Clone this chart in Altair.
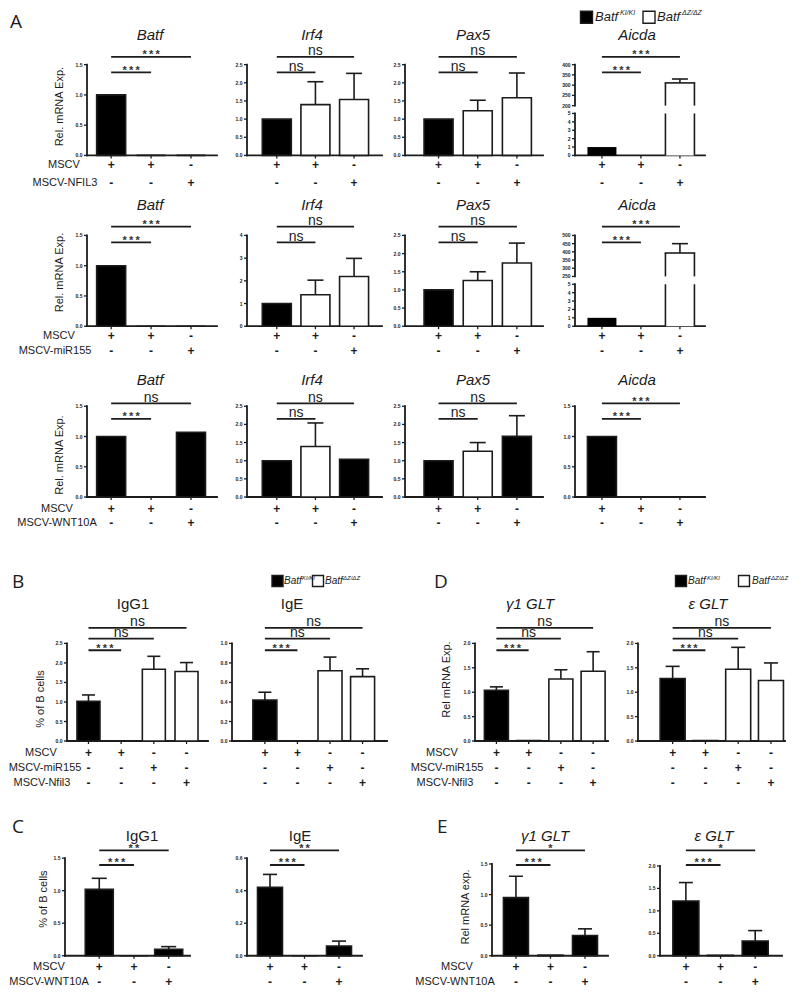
import altair as alt
import pandas as pd

FONT = "Liberation Sans"
LETTER_FONT = "Open Sans"
INK = "#1c1c1c"

# ============================ DATA ============================
# ---- Panel A: relative mRNA expression, 3 rescue experiments
genes_A = ["Batf", "Irf4", "Pax5", "Aicda"]
inserts_A = ["MSCV-NFIL3", "MSCV-miR155", "MSCV-WNT10A"]
mscv_A = ["+", "+", "-"]
insert_A = ["-", "-", "+"]
geno_A = [["KI", "DZ", "DZ"], ["KI", "DZ", "DZ"], ["KI", "DZ", "KI"]]
mean_A = [
    {"Batf": [1.00, 0.00, 0.00], "Irf4": [1.00, 1.40, 1.54], "Pax5": [1.00, 1.23, 1.59], "Aicda": [1.00, 0.00, 311.0]},
    {"Batf": [1.00, 0.00, 0.00], "Irf4": [1.00, 1.39, 2.19], "Pax5": [1.00, 1.26, 1.74], "Aicda": [1.00, 0.00, 393.0]},
    {"Batf": [1.00, 0.00, 1.07], "Irf4": [1.00, 1.39, 1.04], "Pax5": [1.00, 1.26, 1.67], "Aicda": [1.00, 0.00, 0.00]},
]
sem_A = [
    {"Batf": [0, 0, 0], "Irf4": [0, 0.63, 0.72], "Pax5": [0, 0.29, 0.68], "Aicda": [0, 0, 19.0]},
    {"Batf": [0, 0, 0], "Irf4": [0, 0.64, 0.80], "Pax5": [0, 0.24, 0.55], "Aicda": [0, 0, 57.0]},
    {"Batf": [0, 0, 0], "Irf4": [0, 0.65, 0], "Pax5": [0, 0.24, 0.57], "Aicda": [0, 0, 0]},
]
sig_A = [  # [bar1 vs bar2, bar1 vs bar3]
    {"Batf": ["***", "***"], "Irf4": ["ns", "ns"], "Pax5": ["ns", "ns"], "Aicda": ["***", "***"]},
    {"Batf": ["***", "***"], "Irf4": ["ns", "ns"], "Pax5": ["ns", "ns"], "Aicda": ["***", "***"]},
    {"Batf": ["***", "ns"], "Irf4": ["ns", "ns"], "Pax5": ["ns", "ns"], "Aicda": ["***", "***"]},
]
t15 = [0, 0.5, 1.0, 1.5]
t25 = [0, 0.5, 1.0, 1.5, 2.0, 2.5]
t05 = [0, 1, 2, 3, 4, 5]
ticks_A = [
    {"Batf": [t15], "Irf4": [t25], "Pax5": [t25], "Aicda": [t05, [200, 250, 300, 350, 400]]},
    {"Batf": [t15], "Irf4": [[0, 1, 2, 3, 4]], "Pax5": [t25], "Aicda": [t05, [250, 300, 350, 400, 450, 500]]},
    {"Batf": [t15], "Irf4": [t25], "Pax5": [t25], "Aicda": [t15]},
]

# ---- Panels B / D (miR155, Nfil3)
rows_BD = ["MSCV", "MSCV-miR155", "MSCV-Nfil3"]
signs_BD = [["+", "+", "-", "-"], ["-", "-", "+", "-"], ["-", "-", "-", "+"]]
geno_BD = ["KI", "DZ", "DZ", "DZ"]
mean_B = {"IgG1": [1.02, 0.00, 1.84, 1.78], "IgE": [0.42, 0.00, 0.72, 0.66]}
sem_B = {"IgG1": [0.16, 0, 0.33, 0.23], "IgE": [0.08, 0, 0.14, 0.08]}
ticks_B = {"IgG1": t25, "IgE": [0, 0.2, 0.4, 0.6, 0.8, 1.0]}
mean_D = {"γ1 GLT": [1.04, 0.01, 1.27, 1.43], "ε GLT": [1.28, 0.01, 1.47, 1.24]}
sem_D = {"γ1 GLT": [0.07, 0, 0.19, 0.40], "ε GLT": [0.25, 0, 0.45, 0.36]}
ticks_D = {"γ1 GLT": [0, 0.5, 1.0, 1.5, 2.0], "ε GLT": [0, 0.5, 1.0, 1.5, 2.0]}
sig_BD = ["***", "ns", "ns"]

# ---- Panels C / E (WNT10A)
rows_CE = ["MSCV", "MSCV-WNT10A"]
signs_CE = [["+", "+", "-"], ["-", "-", "+"]]
geno_CE = ["KI", "KI", "KI"]
mean_C = {"IgG1": [1.02, 0.00, 0.10], "IgE": [0.42, 0.00, 0.06]}
sem_C = {"IgG1": [0.17, 0, 0.04], "IgE": [0.08, 0, 0.03]}
ticks_C = {"IgG1": t15, "IgE": [0, 0.2, 0.4, 0.6]}
sig_C = ["***", "**"]
mean_E = {"γ1 GLT": [0.95, 0.01, 0.33], "ε GLT": [1.22, 0.01, 0.33]}
sem_E = {"γ1 GLT": [0.35, 0, 0.11], "ε GLT": [0.41, 0, 0.23]}
ticks_E = {"γ1 GLT": t15, "ε GLT": [0, 0.5, 1.0, 1.5, 2.0]}
sig_E = ["***", "*"]

# ============================ GEOMETRY HELPERS ============================
W_TOTAL, H_TOTAL = 784, 978
YS = 0.976


def gx(px):  # reference-picture x -> plot x
    return px - 8


def gy(py):  # reference-picture y -> plot y
    return (py - 3) * YS


FILL = alt.Fill("geno:N", scale=alt.Scale(domain=["KI", "DZ"], range=["#000000", "#ffffff"]), legend=None)
PANEL_ID = [0]


def T(t, x, y, size, style="normal", weight="normal", align="center", baseline="middle", angle=0, font=FONT):
    return dict(t=t, x=x, y=y, size=size, style=style, weight=weight, align=align,
                baseline=baseline, angle=angle, font=font)


def fmt_label(v, ticks):
    if any(float(t) != int(t) for t in ticks):
        return "%.1f" % v
    return "%d" % int(v)


def build_panel(p):
    PANEL_ID[0] += 1
    pid = "p%d" % PANEL_ID[0]
    ax, end = p["ax"], p["end"]
    n = len(p["mean"])
    ppu = (p["cn"] - p["c1"]) / (n - 1)
    x_lo = 1 - (p["c1"] - ax) / ppu
    x_hi = x_lo + (end - ax) / ppu
    xsc = alt.Scale(domain=[x_lo, x_hi], range=[gx(ax), gx(end)], nice=False, zero=False)
    df = pd.DataFrame({"pos": list(range(1, n + 1)), "mean": p["mean"], "sem": p["sem"], "geno": p["geno"]})
    df["top"] = df["mean"] + df["sem"]
    df["base"] = 0.0
    df["panel"] = pid
    bw = p["bw"]
    capw = round(bw * 0.55)
    broken = len(p["segs"]) > 1

    def X(f):
        return alt.X(f, scale=xsc, axis=None)

    layers = []
    for k, (ticks, rb, rt) in enumerate(p["segs"]):
        lo, hi = min(ticks), max(ticks)
        ysc = alt.Scale(domain=[lo, hi], range=[gy(rb), gy(rt)], nice=False, zero=False, clamp=True)

        def Yf(f):
            return alt.Y(f, scale=ysc, axis=None)

        seg = []
        # ---- axis (drawn through the panel scales)
        ydom = pd.DataFrame({"x": [x_lo], "y1": [lo], "y2": [hi], "panel": [pid]})
        seg.append(alt.Chart(ydom).mark_rule(color=INK, strokeWidth=1.8, strokeCap="square").encode(
            x=X("x:Q"), y=Yf("y1:Q"), y2="y2:Q"))
        ytk = pd.DataFrame({"x": [x_lo] * len(ticks), "v": ticks,
                            "lab": [fmt_label(v, ticks) for v in ticks], "panel": pid})
        seg.append(alt.Chart(ytk).mark_tick(orient="horizontal", size=3, thickness=1.3, color=INK, opacity=1,
                                            xOffset=-1.5).encode(x=X("x:Q"), y=Yf("v:Q")))
        seg.append(alt.Chart(ytk).mark_text(font=FONT, fontSize=5, fontWeight="bold", align="right",
                                            baseline="middle", dx=-4.5, color=INK).encode(
            x=X("x:Q"), y=Yf("v:Q"), text="lab:N"))
        if k == 0:
            xdom = pd.DataFrame({"x1": [x_lo], "x2": [x_hi], "y": [lo], "panel": [pid]})
            seg.append(alt.Chart(xdom).mark_rule(color=INK, strokeWidth=1.8, strokeCap="square").encode(
                x=X("x1:Q"), x2="x2:Q", y=Yf("y:Q")))
            xtk = pd.DataFrame({"pos": list(range(1, n + 1)), "y": [lo] * n, "panel": pid})
            seg.append(alt.Chart(xtk).mark_tick(orient="vertical", size=3, thickness=1.3, color=INK, opacity=1,
                                                yOffset=1.5).encode(x=X("pos:Q"), y=Yf("y:Q")))

        # ---- bars
        seg.append(alt.Chart(df).mark_bar(orient="vertical", size=bw, stroke=INK,
                                          strokeWidth=0 if broken else 1.6).encode(
            x=X("pos:Q"), y=Yf("mean:Q"), y2="base:Q", fill=FILL))
        if broken:
            white = df[(df["geno"] == "DZ") & (df["mean"] > 0)]
            if len(white):
                for off in (-bw / 2, bw / 2):
                    seg.append(alt.Chart(white).mark_rule(color=INK, strokeWidth=1.6, xOffset=off).encode(
                        x=X("pos:Q"), y=Yf("mean:Q"), y2="base:Q"))
                inside = white[(white["mean"] >= lo) & (white["mean"] <= hi)]
                if len(inside):
                    seg.append(alt.Chart(inside).mark_tick(orient="horizontal", size=bw + 1.6, thickness=1.6,
                                                           color=INK, opacity=1).encode(
                        x=X("pos:Q"), y=Yf("mean:Q")))
        # ---- error whiskers
        e = df[(df["sem"] > 0) & (df["top"] >= lo) & (df["top"] <= hi)]
        if len(e):
            seg.append(alt.Chart(e).mark_rule(color=INK, strokeWidth=1.6).encode(
                x=X("pos:Q"), y=Yf("mean:Q"), y2="top:Q"))
            seg.append(alt.Chart(e).mark_tick(orient="horizontal", size=capw, thickness=1.6, color=INK,
                                              opacity=1).encode(
                x=X("pos:Q"), y=Yf("top:Q")))
        layers.append(alt.layer(*seg))

    # significance brackets
    for j, lab, yp in p["sig"]:
        sdf = pd.DataFrame({"a": [1], "b": [j], "lab": [lab], "panel": [pid]})
        sdf["m"] = (sdf["a"] + sdf["b"]) / 2
        sdf["shown"] = sdf["lab"].map(lambda s: s if s == "ns" else "\u2009".join(s))
        layers.append(alt.Chart(sdf).mark_rule(color=INK, strokeWidth=1.8).encode(
            x=X("a:Q"), x2="b:Q", y=alt.value(gy(yp))))
        if lab == "ns":
            layers.append(alt.Chart(sdf).mark_text(font=FONT, fontSize=14, baseline="alphabetic", color=INK).encode(
                x=X("m:Q"), y=alt.value(gy(yp) - 1.5), text="shown:N"))
        else:
            layers.append(alt.Chart(sdf).mark_text(font=FONT, fontSize=11, fontWeight="bold", baseline="alphabetic",
                                                   color="#333333").encode(
                x=X("m:Q"), y=alt.value(gy(yp) + 1.5), text="shown:N"))

    # +/- rows
    for signs, yp in p["signs"]:
        sd = pd.DataFrame({"pos": list(range(1, n + 1)), "sign": signs, "panel": pid})
        layers.append(alt.Chart(sd).mark_text(font=FONT, fontSize=12, fontWeight="bold", baseline="middle",
                                              color=INK).encode(
            x=X("pos:Q"), y=alt.value(gy(yp)), text="sign:N"))

    # legend squares
    for xc, yc, side, fill in p.get("squares", []):
        layers.append(alt.Chart(pd.DataFrame({"s": [0]})).mark_square(
            size=side * side, fill=fill, stroke=INK, strokeWidth=1.4, opacity=1).encode(
            x=alt.value(gx(xc)), y=alt.value(gy(yc))))

    # static texts
    for t in p.get("texts", []):
        kw = dict(font=t["font"], fontSize=t["size"], fontStyle=t["style"], fontWeight=t["weight"],
                  align=t["align"], baseline=t["baseline"], color=INK)
        if t["angle"]:
            kw["angle"] = t["angle"]
        layers.append(alt.Chart(pd.DataFrame({"t": [t["t"]]})).mark_text(**kw).encode(
            x=alt.value(gx(t["x"])), y=alt.value(gy(t["y"])), text="t:N"))

    ch = alt.layer(*layers)
    if broken:
        ch = ch.resolve_scale(y="independent")
    return ch


def legend(xk, xw, xt1, xs1, xt2, xs2, yc, side, fs, sfs, dy):
    sq = [(xk, yc, side, "#000000"), (xw, yc, side, "#ffffff")]
    tx = [T("Batf", xt1, yc, fs, style="italic", align="left"),
          T("KI/KI", xs1, yc - dy, sfs, style="italic", align="left"),
          T("Batf", xt2, yc, fs, style="italic", align="left"),
          T("ΔZ/ΔZ", xs2, yc - dy, sfs, style="italic", align="left")]
    return sq, tx


panels = []

# ---- Panel A rows
A_geom = {"Batf": (82, 222, 108, 194), "Irf4": (242, 387, 274, 357),
          "Pax5": (400, 548, 436, 520), "Aicda": (570, 710, 599, 683)}
A_title_x = {"Batf": 150, "Irf4": 312, "Pax5": 473, "Aicda": 637}
A_rows = [
    dict(top=59, title_y=29, sig_y=(67, 51), sign_y=(162, 180), lab_x=(64, 65), yt=102),
    dict(top=234, title_y=203, sig_y=(241, 225), sign_y=(337, 352), lab_x=(59, 55), yt=272),
    dict(top=409, title_y=382, sig_y=(422, 406), sign_y=(514, 529), lab_x=(57, 57), yt=459),
]
HA = 93
for r, g in enumerate(A_rows):
    for gene in genes_A:
        ax, end, c1, cn = A_geom[gene]
        top = g["top"]
        tk = ticks_A[r][gene]
        if len(tk) == 2:
            segs = [(tk[0], top + HA, top + 50), (tk[1], top + 42, top)]
        else:
            segs = [(tk[0], top + HA, top)]
        texts = [T(gene, A_title_x[gene], g["title_y"], 15, style="italic")]
        squares = []
        if gene == "Batf":
            texts += [T("MSCV", g["lab_x"][0], g["sign_y"][0], 11),
                      T(inserts_A[r], g["lab_x"][1], g["sign_y"][1], 11),
                      T("Rel. mRNA Exp.", 60, g["yt"], 11, angle=270)]
            if r == 0:
                texts.append(T("A", 10, 6, 19, align="left", baseline="top", font=LETTER_FONT))
        if gene == "Aicda" and r == 0:
            sq, tx = legend(586.5, 649, 595, 620, 657, 682, 10.5, 12, 13, 7, 4)
            squares += sq
            texts += tx
        sg = sig_A[r][gene]
        panels.append(build_panel(dict(
            ax=ax, end=end, c1=c1, cn=cn, bw=29,
            mean=mean_A[r][gene], sem=sem_A[r][gene], geno=geno_A[r], segs=segs,
            sig=[(2, sg[0], g["sig_y"][0]), (3, sg[1], g["sig_y"][1])],
            signs=[(mscv_A, g["sign_y"][0]), (insert_A, g["sign_y"][1])],
            texts=texts, squares=squares)))

# ---- Panels B and D
TOP_BD, BASE_BD = 652, 752
sign_y_BD = [764, 780, 795]
sig_y_BD = [659, 647, 636]
bd_specs = [
    ("IgG1", mean_B, sem_B, ticks_B, (62, 213, 85, 190), 23, 133, False),
    ("IgE", mean_B, sem_B, ticks_B, (227, 392, 262, 366), 24, 292, False),
    ("γ1 GLT", mean_D, sem_D, ticks_D, (470, 613, 493, 597), 24, 530, True),
    ("ε GLT", mean_D, sem_D, ticks_D, (633, 790, 670, 775), 25, 708, True),
]
for i, (name, mn, se, tk, (ax, end, c1, cn), bw, tx_, ital) in enumerate(bd_specs):
    texts = [T(name, tx_, 612, 15, style="italic" if ital else "normal")]
    squares = []
    if i == 0:
        texts += [T("B", 12, 580, 19, align="left", baseline="top", font=LETTER_FONT),
                  T("% of B cells", 41, 709, 11, angle=270)]
        texts += [T(rows_BD[k], x, sign_y_BD[k], 11) for k, x in enumerate([41, 45, 42])]
    if i == 2:
        texts += [T("D", 434, 580, 19, align="left", baseline="top", font=LETTER_FONT),
                  T("Rel mRNA Exp.", 447, 689, 11, angle=270)]
        texts += [T(rows_BD[k], x, sign_y_BD[k], 11) for k, x in enumerate([442, 447, 445])]
    if i == 1:
        sq, tl = legend(277.5, 318, 284, 302, 325, 343, 588, 11, 10, 6, 3)
        squares += sq
        texts += tl
    if i == 3:
        sq, tl = legend(681, 744, 688, 707, 752, 771, 588, 11, 10, 6, 3)
        squares += sq
        texts += tl
    panels.append(build_panel(dict(
        ax=ax, end=end, c1=c1, cn=cn, bw=bw,
        mean=mn[name], sem=se[name], geno=geno_BD, segs=[(tk[name], BASE_BD, TOP_BD)],
        sig=[(j + 2, sig_BD[j], sig_y_BD[j]) for j in range(3)],
        signs=[(signs_BD[k], sign_y_BD[k]) for k in range(3)],
        texts=texts, squares=squares)))

# ---- Panels C and E
BASE_CE = 972
sign_y_CE = [984, 999]
ce_specs = [
    ("IgG1", mean_C, sem_C, ticks_C, sig_C, (60, 195, 97, 172), 28, 142, False, 872),
    ("IgE", mean_C, sem_C, ticks_C, sig_C, (242, 367, 267, 342), 25, 300, False, 872),
    ("γ1 GLT", mean_E, sem_E, ticks_E, sig_E, (487, 613, 513, 588), 25, 545, True, 878),
    ("ε GLT", mean_E, sem_E, ticks_E, sig_E, (655, 787, 683, 758), 26, 714, True, 880),
]
for i, (name, mn, se, tk, sg, (ax, end, c1, cn), bw, tx_, ital, ytop) in enumerate(ce_specs):
    texts = [T(name, tx_, 849, 15, style="italic" if ital else "normal")]
    if i == 0:
        texts += [T("C", 12, 831, 19, align="left", baseline="top", font=LETTER_FONT),
                  T("% of B cells", 44, 914, 11, angle=270)]
        texts += [T(rows_CE[k], x, sign_y_CE[k], 11) for k, x in enumerate([49, 49])]
    if i == 2:
        texts += [T("E", 437, 831, 19, align="left", baseline="top", font=LETTER_FONT),
                  T("Rel mRNA exp.", 466, 922, 11, angle=270)]
        texts += [T(rows_CE[k], x, sign_y_CE[k], 11) for k, x in enumerate([457, 455])]
    panels.append(build_panel(dict(
        ax=ax, end=end, c1=c1, cn=cn, bw=bw,
        mean=mn[name], sem=se[name], geno=geno_CE, segs=[(tk[name], BASE_CE, ytop)],
        sig=[(2, sg[0], 879), (3, sg[1], 864)],
        signs=[(signs_CE[k], sign_y_CE[k]) for k in range(2)],
        texts=texts)))

chart = alt.layer(*panels).resolve_scale(x="independent", y="independent").properties(
    width=W_TOTAL, height=H_TOTAL, padding=0
).configure_view(strokeWidth=0)

chart.save("out.html", embed_options={"renderer": "svg", "actions": False})
